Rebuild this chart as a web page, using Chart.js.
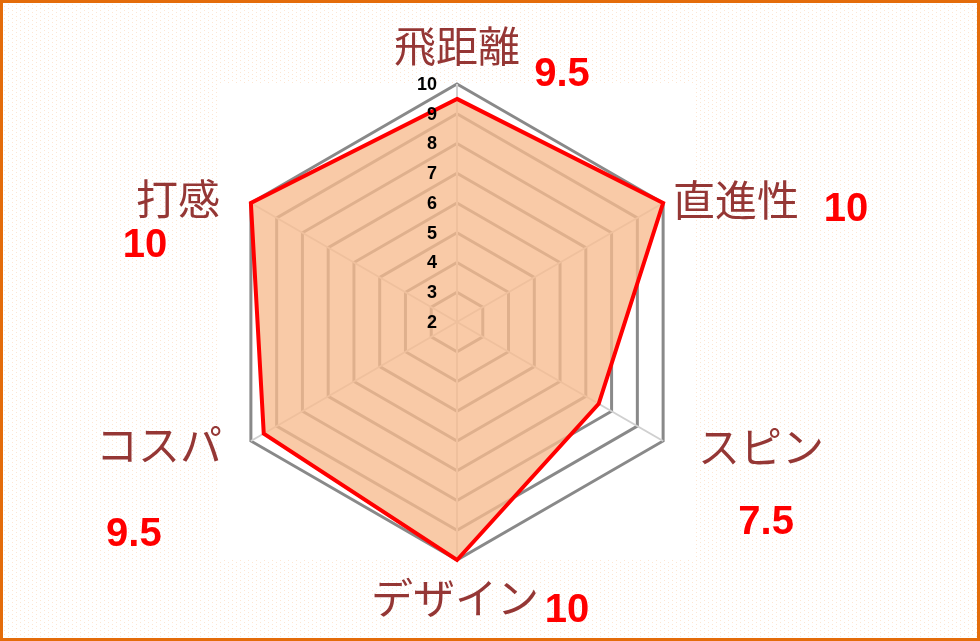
<!DOCTYPE html>
<html>
<head>
<meta charset="utf-8">
<script src="https://cdn.jsdelivr.net/npm/chart.js@4/dist/chart.umd.min.js"></script>
<style>
  html, body { margin: 0; padding: 0; background: #fff; }
  #wrap {
    position: relative; width: 980px; height: 641px;
    background-color: #fff;
    background-image:
      radial-gradient(circle at 0.5px 0.5px, #fde6d3 0.6px, transparent 0.8px),
      radial-gradient(circle at 4.5px 2.5px, #fde6d3 0.6px, transparent 0.8px);
    background-size: 8px 4px, 8px 4px;
  }
  #wrap canvas { position: absolute; left: 0; top: 0; }
  #frame {
    position: absolute; left: 0; top: 0; width: 980px; height: 641px;
    box-sizing: border-box; border: 3px solid #e46c0a; pointer-events: none;
  }
</style>
</head>
<body>
<div id="wrap">
  <canvas id="chart" width="980" height="641"></canvas>
  <div id="frame"></div>
</div>
<script>
const categories = ["飛距離", "直進性", "スピン", "デザイン", "コスパ", "打感"]
const scores = [9.5, 10, 7.5, 10, 9.5, 10]
const tickValues = [2, 3, 4, 5, 6, 7, 8, 9, 10]

// where the category names and score texts sit, relative to each outer vertex
const NAME_LAYOUT = [
  { align: "center", dx: 0, dy: -38 },
  { align: "left", dx: 10, dy: -3 },
  { align: "left", dx: 35, dy: 6 },
  { align: "center", dx: -2, dy: 38 },
  { align: "right", dx: -29, dy: 4 },
  { align: "right", dx: -31, dy: -4 }
]
const SCORE_LAYOUT = [
  { dx: 105, dy: -12 },
  { dx: 183, dy: 4 },
  { dx: 103, dy: 79 },
  { dx: 110, dy: 48 },
  { dx: -117, dy: 91 },
  { dx: -106, dy: 40 }
]

const decorations = {
  id: "decorations",
  beforeDraw(chart) {
    const s = chart.scales.r
    const ctx = chart.ctx
    const r = s.drawingArea
    ctx.save()
    ctx.fillStyle = "#ffffff"
    ctx.fillRect(s.xCenter - r, s.yCenter - r, r * 2, r * 2)
    ctx.restore()
  },
  afterDatasetsDraw(chart) {
    const s = chart.scales.r
    const ctx = chart.ctx
    const outer = s.getDistanceFromCenterForValue(s.max)
    ctx.save()

    // tick numbers along the top spoke
    ctx.fillStyle = "#000"
    ctx.font = "bold 18px 'Liberation Sans', Arial, sans-serif"
    ctx.textAlign = "right"
    ctx.textBaseline = "middle"
    tickValues.forEach(v => {
      const y = s.yCenter - s.getDistanceFromCenterForValue(v)
      ctx.fillText(String(v), s.xCenter - 20, y + 1)
    })

    // category names
    ctx.fillStyle = "#953735"
    ctx.font = "42px 'Noto Sans CJK JP', sans-serif"
    categories.forEach((name, i) => {
      const p = s.getPointPosition(i, outer)
      const l = NAME_LAYOUT[i]
      ctx.textAlign = l.align
      ctx.textBaseline = "middle"
      ctx.fillText(name, p.x + l.dx, p.y + l.dy)
    })

    // score texts
    ctx.fillStyle = "#ff0000"
    ctx.font = "bold 40px 'Liberation Sans', Arial, sans-serif"
    ctx.textAlign = "center"
    ctx.textBaseline = "alphabetic"
    scores.forEach((v, i) => {
      const p = s.getPointPosition(i, outer)
      const l = SCORE_LAYOUT[i]
      ctx.fillText(String(v), p.x + l.dx, p.y + l.dy + 14)
    })
    ctx.restore()
  }
}

new Chart(document.getElementById("chart"), {
  type: "radar",
  data: {
    labels: categories,
    datasets: [{
      label: "評価",
      data: scores,
      borderColor: "#ff0000",
      backgroundColor: "rgba(247, 187, 142, 0.78)",
      borderWidth: 4,
      fill: true,
      pointRadius: 0,
      tension: 0
    }]
  },
  options: {
    responsive: false,
    animation: false,
    layout: { padding: { left: 219, right: 285, top: 84, bottom: 81 } },
    scales: {
      r: {
        min: 2,
        max: 10,
        ticks: { stepSize: 1, display: false },
        grid: { color: "#898989", lineWidth: 3 },
        angleLines: { color: "#d0d0d0", lineWidth: 2 },
        pointLabels: { display: false }
      }
    },
    plugins: {
      legend: { display: false },
      tooltip: { enabled: false }
    }
  },
  plugins: [decorations]
})
</script>
</body>
</html>
